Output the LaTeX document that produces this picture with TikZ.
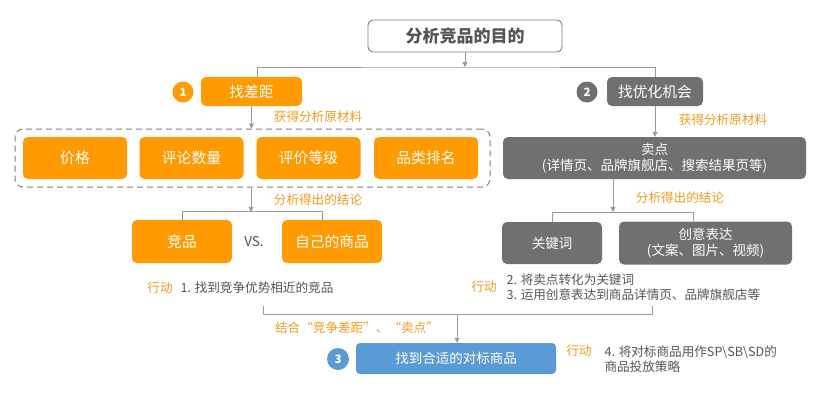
\documentclass[tikz,border=0pt]{standalone}
\usepackage{fontspec}
\setmainfont{Noto Sans CJK SC}
\usetikzlibrary{arrows.meta}
\definecolor{orng}{HTML}{FF9A00}
\definecolor{olab}{HTML}{F39A1E}
\definecolor{grayb}{HTML}{707070}
\definecolor{blueb}{HTML}{5B9BD5}
\definecolor{txt}{HTML}{555555}
\definecolor{lin}{HTML}{9A9A9A}
\begin{document}
\begin{tikzpicture}[x=1pt, y=-1pt,
  box/.style={rounded corners=5pt, text=white, align=center, inner sep=0pt,
    font=\fontsize{14.8}{17}\selectfont},
  obox/.style={box, fill=orng},
  gbox/.style={box, fill=grayb},
  small/.style={font=\fontsize{13.5}{16}\selectfont},
  num/.style={circle, minimum size=21pt, inner sep=0pt, text=white,
    font=\bfseries\fontsize{11.5}{11.5}\selectfont},
  tag/.style={text=olab, font=\fontsize{12.6}{14}\selectfont},
  act/.style={text=txt, anchor=west, align=left, font=\fontsize{12.6}{14.5}\selectfont},
  line/.style={draw=lin, line width=0.8pt},
  arr/.style={line, -{Triangle[length=5pt, width=5pt]}}]

  \useasboundingbox (0,0) rectangle (829,405);

  %% top
  \node[draw=lin!80!black, line width=0.9pt, rounded corners=5pt, minimum width=194pt,
    minimum height=32pt, text=txt, font=\bfseries\fontsize{17}{19}\selectfont]
    (goal) at (465,36) {分析竞品的目的};
  \node[obox, minimum width=101pt, minimum height=29pt] (gap) at (251.5,91.5) {找差距};
  \node[num, fill=orng] (n1) at (183,92) {1};
  \node[gbox, minimum width=96pt, minimum height=29pt] (opt) at (655,91.5) {找优化机会};
  \node[num, fill=grayb] (n2) at (587,92) {2};

  \coordinate (split) at (465,67);
  \draw[arr] (goal.south) -- (split);
  \draw[line] (gap.north -| 257,0) |- (split) -| (opt.north);

  %% left branch
  \node[draw=grayb!90, line width=1pt, dash pattern=on 6pt off 4pt, rounded corners=8pt,
    minimum width=475pt, minimum height=58pt] (raw) at (252.5,158) {};
  \node[obox, minimum width=104pt, minimum height=42pt] (price) at (75,158) {价格};
  \node[obox, minimum width=104pt, minimum height=42pt] (revs) at (191.5,158) {评论数量};
  \node[obox, minimum width=104pt, minimum height=42pt] (rate) at (308.5,158) {评价等级};
  \node[obox, minimum width=104pt, minimum height=42pt] (rank) at (426,158) {品类排名};
  \node[tag] (t1) at (318,117) {获得分析原材料};
  \draw[arr] (gap.south) -- (gap.south |- raw.north);

  \node[obox, minimum width=100pt, minimum height=43pt] (comp) at (182,241.5) {竞品};
  \node[obox, minimum width=100pt, minimum height=43pt] (own) at (332,241.5) {自己的商品};
  \node[text=txt, font=\fontsize{13.5}{15}\selectfont] (vs) at (254,242) {VS.};
  \node[tag] (t2) at (318,200) {分析得出的结论};
  \coordinate (jl) at (251,212);
  \draw[arr] (raw.south -| jl) -- (jl);
  \draw[line] (comp.north) -- ++(0,-8) -| ([xshift=-10pt]own.north);

  \node[tag] (a1) at (160,288) {行动};
  \node[act] (s1) at (177,288) {1. 找到竞争优势相近的竞品};

  %% right branch
  \node[gbox, small, minimum width=303pt, minimum height=42pt]
    (sell) at (654.5,158) {卖点\\(详情页、品牌旗舰店、搜索结果页等)};
  \node[tag] (t3) at (723,120) {获得分析原材料};
  \draw[arr] (opt.south) -- (opt.south |- sell.north);

  \node[gbox, small, minimum width=100pt, minimum height=42pt] (kw) at (552,243) {关键词};
  \node[gbox, small, minimum width=173pt, minimum height=43pt]
    (idea) at (705.5,243) {创意表达\\(文案、图片、视频)};
  \node[tag] (t4) at (680,198) {分析得出的结论};
  \coordinate (jr) at (613,212);
  \draw[arr] (sell.south -| jr) -- (jr);
  \draw[line] (kw.north) -- ++(0,-9) -| ([xshift=-12.5pt]idea.north);

  \node[tag] (a2) at (484,287) {行动};
  \node[act] (s2) at (503,287) {2. 将卖点转化为关键词\\3. 运用创意表达到商品详情页、品牌旗舰店等};

  %% bottom
  \coordinate (bl) at (263,306);
  \coordinate (br) at (652,306);
  \coordinate (jb) at (457,314);
  \draw[line] (bl) -- ++(0,8) -| (br);
  \node[tag] (t5) at (357,328) {结合“竞争差距”、“卖点”};
  \node[box, small, fill=blueb, rounded corners=4pt, minimum width=200pt, minimum height=31pt]
    (target) at (456,358.5) {找到合适的对标商品};
  \node[num, fill=blueb, minimum size=22pt] (n3) at (338,359) {3};
  \draw[arr] (jb) -- (jb |- target.north);

  \node[tag] (a3) at (579,351) {行动};
  \node[act] (s3) at (601,359) {4. 将对标商品用作SP\textbackslash SB\textbackslash SD的\\商品投放策略};
\end{tikzpicture}
\end{document}
